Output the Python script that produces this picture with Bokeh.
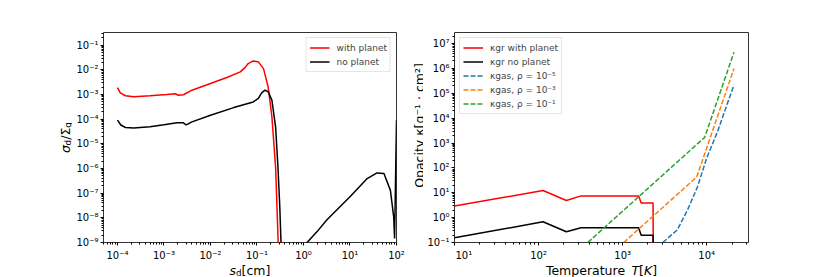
import math
from bokeh.plotting import figure
from bokeh.models import (Range1d, FixedTicker, CustomJSTickFormatter, Legend, LegendItem,
                          LogScale)
from bokeh.layouts import row, column
from bokeh.core.properties import value
from bokeh.embed import file_html
from bokeh.resources import INLINE

# ---------------- data: left panel (dust-to-gas ratio vs grain size) ----------------
s_with = [1.0e-4, 1.15e-4, 1.48e-4, 2.24e-4, 5.0e-4, 1.15e-3, 1.74e-3, 2.04e-3, 2.63e-3,
          3.98e-3, 1.0e-2, 2.24e-2, 4.37e-2, 5.5e-2, 6.46e-2, 8.3e-2, 0.107, 0.138, 0.174,
          0.209, 0.251, 0.269, 0.288, 0.316]
sig_with = [1.9e-3, 1.17e-3, 8.9e-4, 8.1e-4, 8.9e-4, 1.0e-3, 1.07e-3, 9.3e-4, 9.8e-4,
            1.5e-3, 2.8e-3, 4.9e-3, 8.3e-3, 1.23e-2, 1.8e-2, 2.3e-2, 2.1e-2, 1.12e-2, 2.0e-3,
            1.26e-4, 1.17e-6, 2.8e-8, 6.3e-10, 1e-12]

s_no = [1.0e-4, 1.18e-4, 1.48e-4, 2.24e-4, 5.0e-4, 1.0e-3, 1.9e-3, 2.6e-3, 3.0e-3, 4.0e-3,
        1.0e-2, 3.16e-2, 8.3e-2, 0.107, 0.126, 0.148, 0.174, 0.209, 0.251, 0.282, 0.309,
        0.331, 0.35, 1.0, 1.94, 3.16, 10.0, 15.4, 23.4, 38.0, 53.7, 74.0, 87.0, 91.0, 100.0]
sig_no = [9.1e-5, 5.8e-5, 4.6e-5, 4.4e-5, 4.9e-5, 5.9e-5, 7.1e-5, 7.1e-5, 5.9e-5, 7.8e-5,
          1.45e-4, 2.95e-4, 5.0e-4, 6.9e-4, 1.17e-3, 1.5e-3, 1.29e-3, 5.9e-4, 4.9e-5, 1.17e-6,
          2.8e-8, 6.3e-10, 1e-12, 7e-10, 2.7e-9, 8.1e-9, 7.1e-8, 1.7e-7, 3.9e-7, 6.6e-7,
          6.3e-7, 1.3e-7, 1.1e-8, 1.45e-9, 9e-5]

left_labels = ["with planet", "no planet"]

# ---------------- data: right panel (opacity vs temperature) ----------------
T_gr = [10, 113, 214, 320, 1550, 1660, 2300, 2330]
kap_gr_with = [2.95, 12.3, 4.9, 7.5, 7.5, 3.9, 3.9, 1e-4]
kap_gr_no = [0.154, 0.68, 0.27, 0.39, 0.39, 0.197, 0.197, 1e-4]

T_gas5 = [3000, 4460, 5900, 7750, 10000, 13400, 21100]
kap_gas5 = [0.1, 0.32, 2.0, 17.0, 250.0, 2800.0, 2.2e5]
T_gas3 = [1030, 7600, 21100]
kap_gas3 = [0.1, 43.0, 1.0e6]
T_gas1 = [385, 9460, 21100]
kap_gas1 = [0.1, 1700.0, 4.5e6]

right_labels = ["κgr with planet", "κgr no planet",
                "κgas, ρ = 10⁻⁵", "κgas, ρ = 10⁻³", "κgas, ρ = 10⁻¹"]

# ---------------- ticks ----------------
left_x_major = [1e-4, 1e-3, 1e-2, 1e-1, 1e0, 1e1, 1e2]
left_y_major = [1e-9, 1e-8, 1e-7, 1e-6, 1e-5, 1e-4, 1e-3, 1e-2, 1e-1]
right_x_major = [1e1, 1e2, 1e3, 1e4]
right_y_major = [1e-1, 1e0, 1e1, 1e2, 1e3, 1e4, 1e5, 1e6, 1e7]

FONT = "DejaVu Sans"
RED = "#ff0000"
BLACK = "#000000"
C_BLUE = "#1f77b4"
C_ORANGE = "#ff7f0e"
C_GREEN = "#2ca02c"

TOP = 32
FRAME_H = 210
BOTTOM = 6
XLAB_H = 29
TOTAL_H = TOP + FRAME_H + BOTTOM + XLAB_H   # 277

# geometry: left border / frame width / right border of each plot
L_BL, L_FW, L_BR = 31, 293, 10     # left plot canvas: page x 72..406
R_BL, R_FW, R_BR = 31, 294, 10     # right plot canvas: page x 423..758
YL1_W, YL2_W = 72, 17

SUP = {'-': '⁻', '0': '⁰', '1': '¹', '2': '²', '3': '³', '4': '⁴',
       '5': '⁵', '6': '⁶', '7': '⁷', '8': '⁸', '9': '⁹'}


def pow_label(v):
    e = int(round(math.log10(v)))
    return "10" + "".join(SUP[c] for c in str(e))


def minors(k0, k1, lo, hi):
    out = []
    for k in range(k0, k1 + 1):
        for m in range(2, 10):
            v = m * 10.0 ** k
            if lo <= v <= hi:
                out.append(v)
    return out


sup_code = """
const e = Math.round(Math.log10(tick));
const sup = {'-':'\u207b','0':'\u2070','1':'\u00b9','2':'\u00b2','3':'\u00b3','4':'\u2074',
             '5':'\u2075','6':'\u2076','7':'\u2077','8':'\u2078','9':'\u2079'};
return '10' + String(e).split('').map(c => sup[c]).join('');
"""


def style(p):
    p.xgrid.grid_line_color = None
    p.ygrid.grid_line_color = None
    p.outline_line_color = "#333333"
    p.outline_line_width = 1
    p.background_fill_color = "white"
    p.border_fill_color = "white"
    for ax in (p.xaxis[0], p.yaxis[0]):
        ax.axis_line_color = None
        ax.major_tick_out = 3
        ax.major_tick_in = 0
        ax.minor_tick_out = 2
        ax.minor_tick_in = 0
        ax.major_tick_line_color = "black"
        ax.minor_tick_line_color = "black"
        ax.major_label_standoff = 2
        ax.major_label_text_font = FONT
        ax.major_label_text_font_size = "10px"
        ax.major_label_text_color = "black"
        ax.formatter = CustomJSTickFormatter(code=sup_code)
    # the x tick labels are drawn in the strip under the plot (exact layout height)
    xa = p.xaxis[0]
    xa.major_label_standoff = 0
    xa.major_label_text_color = None
    xa.major_label_text_alpha = 0


def style_legend(lg):
    lg.label_text_font = FONT
    lg.label_text_font_size = "9px"
    lg.glyph_width = 20
    lg.glyph_height = 13
    lg.label_height = 13
    lg.label_standoff = 7
    lg.padding = 3
    lg.spacing = 1
    lg.margin = 5
    lg.border_line_color = "#cccccc"
    lg.border_line_width = 1
    lg.background_fill_alpha = 0.8


def blank_fig(fw, h, bl=0, xr=None, xlog=False):
    kw = {"x_axis_type": "log"} if xlog else {}
    f = figure(title=None, frame_width=fw, frame_height=h,
               x_range=xr if xr is not None else Range1d(0, fw), y_range=Range1d(0, h),
               output_backend="svg", toolbar_location=None, tools="",
               x_axis_location=None, y_axis_location=None,
               min_border_left=bl, min_border_right=0, min_border_top=0, min_border_bottom=0,
               **kw)
    if xlog:
        f.x_scale = LogScale()
    f.outline_line_color = None
    f.grid.visible = False
    f.background_fill_color = "white"
    f.border_fill_color = "white"
    return f


def txt(f, t, x, y, size=12.5, fstyle="normal", angle=0.0, align="left"):
    f.text(x=[x], y=[y], text=[t], text_font=value(FONT), text_font_size=value(f"{size}px"),
           text_font_style=value(fstyle), angle=angle, text_align=value(align),
           text_baseline=value("alphabetic"), text_color="black")


def x_strip(bl, fw, br, xmin, xmax, ticks, frame_left_page):
    """Strip under a log-x plot. Same left border, so its frame starts under the plot
    frame; it also covers the plot's right border so edge labels are not clipped.
    Its log scale continues the plot's own x scale."""
    lmin, lmax = math.log10(xmin), math.log10(xmax)
    dpp = (lmax - lmin) / fw
    hi = lmax + br * dpp
    f = blank_fig(fw + br, XLAB_H, bl, Range1d(xmin, 10 ** hi), xlog=True)
    inner = [t for t in ticks if t > xmin]
    edge = [t for t in ticks if t <= xmin]
    f.text(x=inner, y=[XLAB_H - 7] * len(inner), text=[pow_label(v) for v in inner],
           text_font=value(FONT), text_font_size=value("10px"), text_align=value("center"),
           text_baseline=value("alphabetic"), text_color="black")
    if edge:
        f.text(x=edge, y=[XLAB_H - 7] * len(edge), text=[pow_label(v) for v in edge],
               text_font=value(FONT), text_font_size=value("10px"), text_align=value("left"),
               text_baseline=value("alphabetic"), text_color="black", x_offset=1)

    def at(page_x):
        return 10 ** (lmin + (page_x - frame_left_page) * dpp)
    return f, at


# ---------------- left figure ----------------
XMIN1, XMAX1 = 5.0e-5, 100
p1 = figure(title=None, frame_width=L_FW, frame_height=FRAME_H,
            x_axis_type="log", y_axis_type="log",
            x_range=Range1d(XMIN1, XMAX1), y_range=Range1d(1e-9, 0.327),
            output_backend="svg", toolbar_location=None, tools="",
            min_border_left=L_BL, min_border_right=L_BR, min_border_top=TOP,
            min_border_bottom=BOTTOM)
style(p1)
p1.xaxis.ticker = FixedTicker(ticks=left_x_major, minor_ticks=minors(-5, 1, XMIN1, XMAX1))
p1.yaxis.ticker = FixedTicker(ticks=left_y_major, minor_ticks=minors(-9, -1, 1e-9, 0.327))

r_with = p1.line(s_with, sig_with, line_color=RED, line_width=1.5)
r_no = p1.line(s_no, sig_no, line_color=BLACK, line_width=1.5)

leg1 = Legend(items=[LegendItem(label=left_labels[0], renderers=[r_with]),
                     LegendItem(label=left_labels[1], renderers=[r_no])],
              location="top_right")
style_legend(leg1)
p1.add_layout(leg1)

xl1, at1 = x_strip(L_BL, L_FW, L_BR, XMIN1, XMAX1, left_x_major, 103)
txt(xl1, "s", at1(229.0), 7.0, 12.5, "italic")
txt(xl1, "d", at1(235.5), 4.5, 8.75)
txt(xl1, "[cm]", at1(241.1), 7.0, 12.5)

# y label  σ_d/Σ_g   (strip spans page x 0..72)
yl1 = blank_fig(YL1_W, TOTAL_H)
ang = math.pi / 2
txt(yl1, "σ", 65, 124.6, 12.5, "italic", ang)
txt(yl1, "d", 67.5, 132.1, 8.75, "normal", ang)
txt(yl1, "/Σ", 65, 137.7, 12.5, "normal", ang)
txt(yl1, "g", 67.5, 149.8, 8.75, "normal", ang)

# ---------------- right figure ----------------
XMIN2, XMAX2 = 10, 31400
p2 = figure(title=None, frame_width=R_FW, frame_height=FRAME_H,
            x_axis_type="log", y_axis_type="log",
            x_range=Range1d(XMIN2, XMAX2), y_range=Range1d(0.1, 2.8e7),
            output_backend="svg", toolbar_location=None, tools="",
            min_border_left=R_BL, min_border_right=R_BR, min_border_top=TOP,
            min_border_bottom=BOTTOM)
style(p2)
p2.xaxis.ticker = FixedTicker(ticks=right_x_major, minor_ticks=minors(1, 4, XMIN2, XMAX2))
p2.yaxis.ticker = FixedTicker(ticks=right_y_major, minor_ticks=minors(-1, 7, 0.1, 2.8e7))

g_with = p2.line(T_gr, kap_gr_with, line_color=RED, line_width=1.5)
g_no = p2.line(T_gr, kap_gr_no, line_color=BLACK, line_width=1.5)
g5 = p2.line(T_gas5, kap_gas5, line_color=C_BLUE, line_width=1.5, line_dash="5 2")
g3 = p2.line(T_gas3, kap_gas3, line_color=C_ORANGE, line_width=1.5, line_dash="5 2")
g1 = p2.line(T_gas1, kap_gas1, line_color=C_GREEN, line_width=1.5, line_dash="5 2")

leg2 = Legend(items=[LegendItem(label=right_labels[0], renderers=[g_with]),
                     LegendItem(label=right_labels[1], renderers=[g_no]),
                     LegendItem(label=right_labels[2], renderers=[g5]),
                     LegendItem(label=right_labels[3], renderers=[g3]),
                     LegendItem(label=right_labels[4], renderers=[g1])],
              location="top_left")
style_legend(leg2)
p2.add_layout(leg2)

xl2, at2 = x_strip(R_BL, R_FW, R_BR, XMIN2, XMAX2, right_x_major, 454)
txt(xl2, "Temperature ", at2(545.4), 7.0, 12.5)
txt(xl2, "T", at2(631.0), 7.0, 12.5, "italic")
txt(xl2, "[", at2(638.6), 7.0, 12.5)
txt(xl2, "K", at2(643.5), 7.0, 12.5, "italic")
txt(xl2, "]", at2(651.7), 7.0, 12.5)

# y label  Opacity κ[g⁻¹·cm²]   (strip spans page x 406..423)
yl2 = blank_fig(YL2_W, TOTAL_H)
txt(yl2, "Opacity κ[g⁻¹ · cm²]", 12.5, 152, 12.5, "normal", ang, "center")

layout = row(yl1, column(p1, xl1), yl2, column(p2, xl2))
open("out.html", "w").write(file_html(layout, INLINE))
